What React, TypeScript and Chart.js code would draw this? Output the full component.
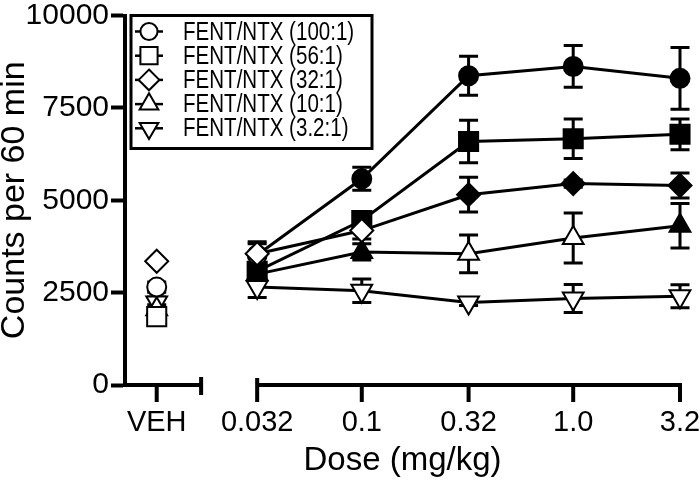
import React, { useEffect, useRef } from 'react';
import { Chart, registerables } from 'chart.js';

Chart.register(...registerables);

// ---- data ----
const TICK_LABELS = ['VEH', '0.032', '0.1', '0.32', '1.0', '3.2'];
const DOSES = [0.032, 0.1, 0.32, 1.0, 3.2];
const Y_TICKS = [0, 2500, 5000, 7500, 10000];
const SERIES_NAMES = ['FENT/NTX (100:1)', 'FENT/NTX (56:1)', 'FENT/NTX (32:1)', 'FENT/NTX (10:1)', 'FENT/NTX (3.2:1)'];

// values ordered: VEH, 0.032, 0.1, 0.32, 1.0, 3.2
const MEAN_100 = [2650, 3520, 5580, 8370, 8620, 8300];
const SEM_100 = [140, 300, 310, 525, 565, 835];
const FILLED_100 = [false, false, true, true, true, true];

const MEAN_56 = [1850, 3080, 4450, 6590, 6665, 6785];
const SEM_56 = [150, 200, 200, 575, 535, 415];
const FILLED_56 = [false, true, true, true, true, true];

const MEAN_32 = [3350, 3550, 4180, 5150, 5450, 5400];
const SEM_32 = [0, 330, 230, 470, 100, 340];
const FILLED_32 = [false, false, false, true, true, true];

const MEAN_10 = [2050, 3000, 3600, 3550, 3980, 4310];
const SEM_10 = [120, 200, 220, 510, 675, 600];
const FILLED_10 = [false, true, true, false, false, true];

const MEAN_3 = [2230, 2650, 2550, 2230, 2340, 2400];
const SEM_3 = [150, 280, 320, 80, 380, 310];
const FILLED_3 = [false, false, false, false, false, false];

const MEANS = [MEAN_100, MEAN_56, MEAN_32, MEAN_10, MEAN_3];
const SEMS = [SEM_100, SEM_56, SEM_32, SEM_10, SEM_3];
const FILLED = [FILLED_100, FILLED_56, FILLED_32, FILLED_10, FILLED_3];

// ---- styles / layout ----
const POINT_STYLES = ['circle', 'rect', 'rectRot', 'triangle', 'triangle'];
const POINT_ROT = [0, 0, 0, 0, 180];
const POINT_R = [9.5, 13.5, 11.5, 12, 12];
const VEH_POS = -1.97; // x position (log10 units) of the vehicle group
const BREAK_END = -1.76; // end of the vehicle axis segment
const X_MIN = -2.12;
const FONT = "'Liberation Sans', Arial, sans-serif";

const xOf = (i: number) => (i === 0 ? VEH_POS : Math.log10(DOSES[i - 1]));

function drawMarker(ctx: CanvasRenderingContext2D, style: string, rot: number, x: number, y: number, r: number) {
  ctx.beginPath();
  if (style === 'circle') {
    ctx.arc(x, y, r, 0, Math.PI * 2);
  } else if (style === 'rect') {
    const s = Math.SQRT1_2 * r;
    ctx.rect(x - s, y - s, 2 * s, 2 * s);
  } else if (style === 'rectRot') {
    ctx.moveTo(x, y - r);
    ctx.lineTo(x + r, y);
    ctx.lineTo(x, y + r);
    ctx.lineTo(x - r, y);
    ctx.closePath();
  } else {
    let rad = (rot * Math.PI) / 180;
    ctx.moveTo(x + Math.sin(rad) * r, y - Math.cos(rad) * r);
    rad += (2 * Math.PI) / 3;
    ctx.lineTo(x + Math.sin(rad) * r, y - Math.cos(rad) * r);
    rad += (2 * Math.PI) / 3;
    ctx.lineTo(x + Math.sin(rad) * r, y - Math.cos(rad) * r);
    ctx.closePath();
  }
  ctx.fillStyle = '#fff';
  ctx.fill();
  ctx.lineWidth = 2;
  ctx.strokeStyle = '#000';
  ctx.stroke();
}

const errorBarPlugin = {
  id: 'errorBars',
  beforeDatasetsDraw(chart: any) {
    const ctx = chart.ctx;
    const y = chart.scales.y;
    ctx.save();
    ctx.strokeStyle = '#000';
    ctx.lineWidth = 3;
    chart.data.datasets.forEach((ds: any, i: number) => {
      const meta = chart.getDatasetMeta(i);
      meta.data.forEach((el: any, j: number) => {
        const m = MEANS[i][j];
        const s = SEMS[i][j];
        if (!s) return;
        const yt = y.getPixelForValue(m + s);
        const yb = y.getPixelForValue(m - s);
        const x = el.x;
        ctx.beginPath();
        ctx.moveTo(x, yt);
        ctx.lineTo(x, yb);
        ctx.moveTo(x - 9.5, yt);
        ctx.lineTo(x + 9.5, yt);
        ctx.moveTo(x - 9.5, yb);
        ctx.lineTo(x + 9.5, yb);
        ctx.stroke();
      });
    });
    ctx.restore();
  },
};

const axisLegendPlugin = {
  id: 'axisLegend',
  afterDraw(chart: any) {
    const ctx = chart.ctx;
    const xs = chart.scales.x;
    const ca = chart.chartArea;
    const y0 = ca.bottom;
    ctx.save();
    ctx.strokeStyle = '#000';
    ctx.lineWidth = 4;
    ctx.lineCap = 'butt';
    // vehicle segment
    const xb = xs.getPixelForValue(BREAK_END);
    const xv = xs.getPixelForValue(VEH_POS);
    ctx.beginPath();
    ctx.moveTo(ca.left - 2, y0);
    ctx.lineTo(xb + 2, y0);
    ctx.moveTo(xb, y0 - 8);
    ctx.lineTo(xb, y0 + 10);
    ctx.moveTo(xv, y0);
    ctx.lineTo(xv, y0 + 17);
    ctx.stroke();
    // dose segment
    const xsP = xs.getPixelForValue(Math.log10(DOSES[0]));
    const xeP = xs.getPixelForValue(Math.log10(DOSES[DOSES.length - 1]));
    ctx.beginPath();
    ctx.moveTo(xsP - 2, y0);
    ctx.lineTo(xeP + 2, y0);
    ctx.moveTo(xsP, y0 - 7);
    ctx.lineTo(xsP, y0 + 17);
    DOSES.forEach((d) => {
      const px = xs.getPixelForValue(Math.log10(d));
      ctx.moveTo(px, y0);
      ctx.lineTo(px, y0 + 17);
    });
    ctx.stroke();

    // legend
    const bx = ca.left + 6;
    const by = ca.top;
    const bw = 241;
    const bh = 133;
    ctx.fillStyle = '#fff';
    ctx.fillRect(bx, by, bw, bh);
    ctx.lineWidth = 3;
    ctx.strokeRect(bx, by, bw, bh);
    SERIES_NAMES.forEach((name, i) => {
      const ry = by + 16 + i * 24.2;
      const mx = bx + 18;
      ctx.beginPath();
      ctx.lineWidth = 2.5;
      ctx.moveTo(bx + 4, ry);
      ctx.lineTo(bx + 32, ry);
      ctx.stroke();
      drawMarker(ctx, POINT_STYLES[i], POINT_ROT[i], mx, ry, POINT_R[i] * 0.9);
      ctx.save();
      ctx.translate(bx + 52, ry + 1);
      ctx.scale(0.79, 1);
      ctx.fillStyle = '#000';
      ctx.font = `26px ${FONT}`;
      ctx.textBaseline = 'middle';
      ctx.textAlign = 'left';
      ctx.fillText(name, 0, 0);
      ctx.restore();
    });
    ctx.restore();
  },
};

export default function App() {
  const ref = useRef<HTMLCanvasElement | null>(null);

  useEffect(() => {
    if (!ref.current) return;
    Chart.defaults.font.family = FONT;
    Chart.defaults.color = '#000';

    const datasets = SERIES_NAMES.map((name, i) => ({
      label: name,
      data: MEANS[i].map((v, j) => ({ x: xOf(j), y: v })),
      borderColor: '#000',
      borderWidth: 3,
      pointStyle: POINT_STYLES[i],
      pointRotation: POINT_ROT[i],
      pointRadius: POINT_R[i],
      pointHoverRadius: POINT_R[i],
      pointBorderWidth: 2,
      pointBorderColor: '#000',
      pointBackgroundColor: FILLED[i].map((f) => (f ? '#000' : '#fff')),
      fill: false,
      tension: 0,
      clip: false as any,
      order: i === 2 ? 0 : i + 1,
      segment: {
        borderColor: (c: any) => (c.p0DataIndex === 0 ? 'rgba(0,0,0,0)' : '#000'),
      },
    }));

    const chart = new Chart(ref.current, {
      type: 'line',
      data: { datasets },
      plugins: [errorBarPlugin, axisLegendPlugin],
      options: {
        animation: false,
        responsive: false,
        events: [],
        layout: { padding: { top: 12, right: 20, left: 0, bottom: 0 } },
        plugins: {
          legend: { display: false },
          tooltip: { enabled: false },
        },
        scales: {
          x: {
            type: 'linear',
            min: X_MIN,
            max: Math.log10(DOSES[DOSES.length - 1]),
            grid: { display: false, drawTicks: false },
            border: { display: false },
            afterBuildTicks: (s: any) => {
              s.ticks = TICK_LABELS.map((_, i) => ({ value: xOf(i) }));
            },
            afterFit: (s: any) => {
              s.height = 103;
              s.paddingLeft = 0;
              s.paddingRight = 0;
            },
            ticks: {
              autoSkip: false,
              maxRotation: 0,
              padding: 21,
              font: { size: 29 },
              color: '#000',
              callback: (_v: any, idx: number) => TICK_LABELS[idx],
            },
            title: {
              display: true,
              text: 'Dose (mg/kg)',
              font: { size: 33 },
              color: '#000',
              padding: { top: 0, bottom: 7 },
            },
          },
          y: {
            min: Y_TICKS[0],
            max: Y_TICKS[Y_TICKS.length - 1],
            afterBuildTicks: (s: any) => {
              s.ticks = Y_TICKS.map((v) => ({ value: v }));
            },
            afterFit: (s: any) => {
              s.width = 125;
              s.paddingTop = 0;
              s.paddingBottom = 0;
            },
            grid: {
              display: true,
              drawOnChartArea: false,
              drawTicks: true,
              tickLength: 14,
              tickWidth: 4,
              tickColor: '#000',
              color: '#000',
            },
            border: { display: true, width: 4, color: '#000' },
            ticks: {
              padding: 2,
              font: { size: 30 },
              color: '#000',
              callback: (v: any) => String(v),
            },
            title: {
              display: true,
              text: 'Counts per 60 min',
              font: { size: 34, lineHeight: 0.88 },
              color: '#000',
              padding: 0,
            },
          },
        },
      },
    } as any);

    return () => chart.destroy();
  }, []);

  return (
    <div style={{ position: 'absolute', left: 0, top: 0, width: 700, height: 488 }}>
      <canvas ref={ref} width={700} height={488} style={{ display: 'block' }} />
    </div>
  );
}
